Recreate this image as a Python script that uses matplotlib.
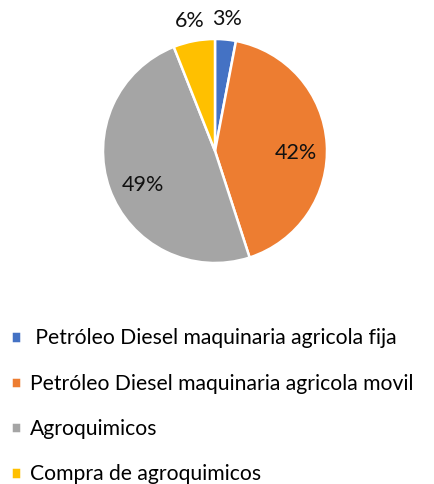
import numpy as np
import matplotlib
matplotlib.use("Agg")
import matplotlib.pyplot as plt

categories = [" Petróleo Diesel maquinaria agricola fija",
              "Petróleo Diesel maquinaria agricola movil",
              "Agroquimicos",
              "Compra de agroquimicos"]
values = [3, 42, 49, 6]
colors = ["#4472C4", "#ED7D31", "#A5A5A5", "#FFC000"]

plt.rcParams['font.family'] = ['Lato', 'DejaVu Sans']

W, H = 434, 484
fig = plt.figure(figsize=(W/100, H/100), dpi=100)
cx, cy, r = 215, 151, 112
ax = fig.add_axes([(cx-r)/W, (H-cy-r)/H, 2*r/W, 2*r/H])

wedges, texts, autotexts = ax.pie(values, colors=colors, startangle=90, counterclock=False,
                                  autopct='%1.0f%%', pctdistance=0.72,
                                  wedgeprops=dict(edgecolor='white', linewidth=1.8),
                                  textprops=dict(fontsize=15.5, color='#111111'))
ax.set_xlim(-1, 1); ax.set_ylim(-1, 1)

total = sum(values)
cum = 0
for w, t, v in zip(wedges, autotexts, values):
    mid = (cum + v/2) / total
    cum += v
    if v / total < 0.1:
        ang = np.deg2rad(90 - mid*360)
        t.set_position((1.18*np.cos(ang), 1.18*np.sin(ang)))
    else:
        x, y = t.get_position()
        t.set_position((x + (0.03 if x < 0 else 0), y - 0.06))

fig.legend(wedges, categories, loc='upper left', bbox_to_anchor=(0.006, 1 - 320/H),
           frameon=False, fontsize=15.2, handlelength=0.45, handleheight=0.45,
           handletextpad=0.45, labelspacing=1.2, borderaxespad=0)

fig.savefig("out.png", dpi=100)
